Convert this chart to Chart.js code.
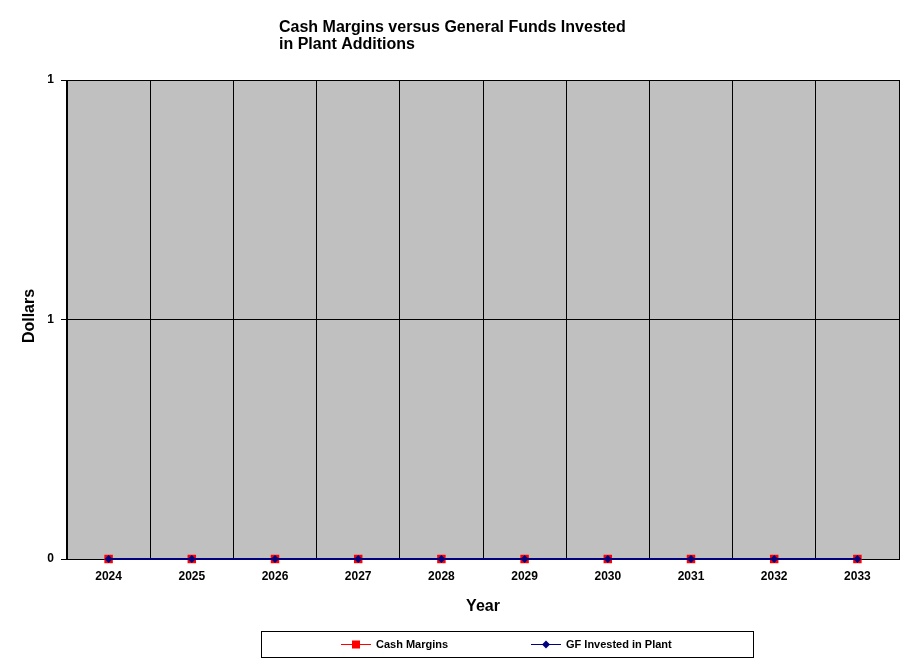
<!DOCTYPE html>
<html>
<head>
<meta charset="utf-8">
<script src="https://cdn.jsdelivr.net/npm/chart.js@4.4.1/dist/chart.umd.min.js"></script>
<style>
  html, body { margin: 0; padding: 0; background: #fff; }
  #wrap { width: 909px; height: 660px; position: relative; }
</style>
</head>
<body>
<div id="wrap"><canvas id="chart" width="909" height="660"></canvas></div>
<script>
// chart data
const years = ['2024', '2025', '2026', '2027', '2028', '2029', '2030', '2031', '2032', '2033'];
const cashMargins = [0, 0, 0, 0, 0, 0, 0, 0, 0, 0];
const gfInvested = [0, 0, 0, 0, 0, 0, 0, 0, 0, 0];
const titleLines = ['Cash Margins versus General Funds Invested', 'in Plant Additions'];

const FONT = '"Liberation Sans", Arial, sans-serif';

// grey plot background, titles and the boxed legend
const decorations = {
    id: 'decorations',
    beforeDraw(chart) {
        const ctx = chart.ctx;
        const a = chart.chartArea;
        ctx.save();
        ctx.fillStyle = '#c0c0c0';
        ctx.fillRect(a.left, a.top, a.right - a.left, a.bottom - a.top);
        ctx.restore();
    },
    afterDraw(chart) {
        const ctx = chart.ctx;
        ctx.save();
        ctx.fillStyle = '#000';
        ctx.textBaseline = 'alphabetic';

        // main title, left aligned lines
        ctx.font = 'bold 16px ' + FONT;
        ctx.textAlign = 'left';
        ctx.fillText(titleLines[0], 279, 32);
        ctx.fillText(titleLines[1], 279, 49);

        // axis titles
        ctx.textAlign = 'center';
        ctx.fillText('Year', 483, 611);
        ctx.save();
        ctx.translate(34, 316);
        ctx.rotate(-Math.PI / 2);
        ctx.fillText('Dollars', 0, 0);
        ctx.restore();

        // legend box
        ctx.strokeStyle = '#000';
        ctx.lineWidth = 1;
        ctx.strokeRect(261.5, 631.5, 492, 26);

        ctx.font = 'bold 11px ' + FONT;
        ctx.textAlign = 'left';
        ctx.textBaseline = 'middle';
        const ly = 644.5;

        // Cash Margins
        ctx.strokeStyle = '#ff0000';
        ctx.beginPath();
        ctx.moveTo(341, ly);
        ctx.lineTo(371, ly);
        ctx.stroke();
        ctx.fillStyle = '#ff0000';
        ctx.fillRect(352, ly - 4, 8, 8);
        ctx.fillStyle = '#000';
        ctx.fillText('Cash Margins', 376, ly);

        // GF Invested in Plant
        ctx.strokeStyle = '#000080';
        ctx.beginPath();
        ctx.moveTo(531, ly);
        ctx.lineTo(561, ly);
        ctx.stroke();
        ctx.fillStyle = '#000080';
        ctx.beginPath();
        ctx.moveTo(546, ly - 4);
        ctx.lineTo(550, ly);
        ctx.lineTo(546, ly + 4);
        ctx.lineTo(542, ly);
        ctx.closePath();
        ctx.fill();
        ctx.fillStyle = '#000';
        ctx.fillText('GF Invested in Plant', 566, ly);

        ctx.restore();
    }
};

new Chart(document.getElementById('chart'), {
    type: 'line',
    data: {
        labels: years,
        datasets: [{
            label: 'Cash Margins',
            data: cashMargins,
            borderColor: '#ff0000',
            backgroundColor: '#ff0000',
            borderWidth: 1,
            pointStyle: 'rect',
            pointRadius: 6,
            pointBorderWidth: 0,
            order: 2,
            clip: false
        }, {
            label: 'GF Invested in Plant',
            data: gfInvested,
            borderColor: '#000080',
            backgroundColor: '#000080',
            borderWidth: 2,
            pointStyle: 'rectRot',
            pointRadius: 4,
            pointBorderWidth: 0,
            order: 1,
            clip: false
        }]
    },
    options: {
        responsive: false,
        animation: false,
        events: [],
        layout: { padding: { top: 80, right: 10, left: 0, bottom: 0 } },
        plugins: {
            legend: { display: false },
            title: { display: false },
            tooltip: { enabled: false }
        },
        scales: {
            x: {
                offset: true,
                afterFit(scale) { scale.height = 101; },
                grid: {
                    offset: true,
                    color: '#000',
                    lineWidth: 1,
                    drawTicks: false
                },
                border: { color: '#000', width: 1 },
                ticks: {
                    color: '#000',
                    padding: 10,
                    font: { family: FONT, size: 12, weight: 'bold' },
                    maxRotation: 0
                }
            },
            y: {
                min: 0,
                max: 1,
                afterFit(scale) { scale.width = 67; },
                grid: {
                    color: '#000',
                    lineWidth: 1,
                    tickLength: 6
                },
                border: { color: '#000', width: 1 },
                ticks: {
                    stepSize: 0.5,
                    color: '#000',
                    padding: 7,
                    font: { family: FONT, size: 12, weight: 'bold' },
                    callback: v => Math.round(v)
                }
            }
        }
    },
    plugins: [decorations]
});
</script>
</body>
</html>
